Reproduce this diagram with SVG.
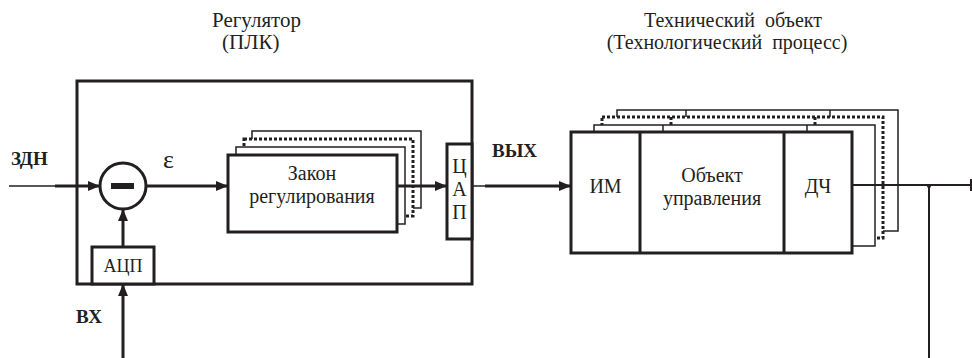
<svg xmlns="http://www.w3.org/2000/svg" width="972" height="358" viewBox="0 0 972 358">
<style>
.box{fill:#fff;stroke:#231f20;stroke-width:3}
.lay{fill:#fff;stroke:#231f20;stroke-width:1.5}
.dot{fill:#fff;stroke:#231f20;stroke-width:3;stroke-dasharray:3 2}
.thin{stroke:#231f20;stroke-width:1.5;fill:none}
.thk{stroke:#231f20;stroke-width:3;fill:none}
.med{stroke:#231f20;stroke-width:2;fill:none}
</style>
<defs>
<marker id="ah" markerUnits="userSpaceOnUse" markerWidth="14" markerHeight="12" refX="12" refY="6" orient="auto">
<path d="M0,1 L12,6 L0,11 Z" fill="#231f20"/>
</marker>
</defs>

<g id="titles">
<text x="212" y="27" font-size="21" fill="#231f20" font-family="'Liberation Serif'">Регулятор</text>
<text x="222" y="49" font-size="21" fill="#231f20" font-family="'Liberation Serif'">(ПЛК)</text>
<text x="733" y="27" font-size="20" fill="#231f20" text-anchor="middle" font-family="'Liberation Serif'">Технический&#160; объект</text>
<text x="727" y="49" font-size="20" fill="#231f20" text-anchor="middle" font-family="'Liberation Serif'">(Технологический&#160; процесс)</text>
</g>

<g id="regulator">
<rect x="77" y="81" width="395" height="203" fill="none" stroke="#231f20" stroke-width="3"/>
</g>

<g id="summator">
<circle cx="123" cy="186" r="23" fill="#fff" stroke="#231f20" stroke-width="3"/>
<rect x="111" y="183" width="23" height="6" fill="#231f20"/>
</g>

<g id="zakon">
<rect class="lay" x="252" y="131" width="169" height="77"/>
<rect class="dot" x="244" y="139" width="169" height="77"/>
<rect class="lay" x="236" y="147" width="169" height="77"/>
<rect class="box" x="228" y="155" width="169" height="77"/>
<text x="312" y="180" font-size="20" fill="#231f20" text-anchor="middle" font-family="'Liberation Serif'">Закон</text>
<text x="312" y="203" font-size="20" fill="#231f20" text-anchor="middle" font-family="'Liberation Serif'">регулирования</text>
</g>

<g id="cap">
<rect class="box" x="447" y="144" width="25" height="95"/>
<text x="459.5" y="173" font-size="20" fill="#231f20" text-anchor="middle" font-family="'Liberation Serif'">Ц</text>
<text x="459.5" y="196" font-size="20" fill="#231f20" text-anchor="middle" font-family="'Liberation Serif'">А</text>
<text x="459.5" y="219" font-size="20" fill="#231f20" text-anchor="middle" font-family="'Liberation Serif'">П</text>
</g>

<g id="acp">
<rect class="box" x="92" y="247" width="62" height="37"/>
<text x="123" y="272" font-size="18" fill="#231f20" text-anchor="middle" font-family="'Liberation Serif'">АЦП</text>
</g>

<g id="object">
<rect class="lay" x="617" y="110" width="281" height="121"/>
<line class="thin" x1="686" y1="110" x2="686" y2="231"/>
<line class="thin" x1="830" y1="110" x2="830" y2="231"/>
<rect class="dot" x="602" y="117" width="281" height="121"/>
<line class="dot" x1="671" y1="117" x2="671" y2="238"/>
<line class="dot" x1="815" y1="117" x2="815" y2="238"/>
<rect class="lay" x="594" y="125" width="281" height="121"/>
<line class="thin" x1="663" y1="125" x2="663" y2="246"/>
<line class="thin" x1="807" y1="125" x2="807" y2="246"/>
<rect class="box" x="571" y="132" width="281" height="121"/>
<line class="thk" x1="640" y1="132" x2="640" y2="253"/>
<line class="thk" x1="784" y1="132" x2="784" y2="253"/>
<text x="605.5" y="193" font-size="20" fill="#231f20" text-anchor="middle" font-family="'Liberation Serif'">ИМ</text>
<text x="712" y="182" font-size="20" fill="#231f20" text-anchor="middle" font-family="'Liberation Serif'">Объект</text>
<text x="712" y="205" font-size="20" fill="#231f20" text-anchor="middle" font-family="'Liberation Serif'">управления</text>
<text x="818" y="193" font-size="20" fill="#231f20" text-anchor="middle" font-family="'Liberation Serif'">ДЧ</text>
</g>

<g id="labels">
<text x="11" y="165" font-size="19" font-weight="bold" fill="#231f20" font-family="'Liberation Serif'">ЗДН</text>
<text x="163" y="168" font-size="26" fill="#231f20" font-family="'Liberation Serif'">ε</text>
<text x="492" y="157" font-size="19" font-weight="bold" fill="#231f20" font-family="'Liberation Serif'">ВЫХ</text>
<text x="76" y="323" font-size="19" font-weight="bold" fill="#231f20" font-family="'Liberation Serif'">ВХ</text>
</g>

<g id="connectors">
<line class="thin" x1="9" y1="186" x2="56" y2="186"/>
<line class="thk" x1="55" y1="186" x2="100" y2="186" marker-end="url(#ah)"/>
<line class="thk" x1="146" y1="186" x2="228" y2="186" marker-end="url(#ah)"/>
<line class="thk" x1="397" y1="186" x2="447" y2="186" marker-end="url(#ah)"/>
<line class="thin" x1="472" y1="186" x2="486" y2="186"/>
<line class="thk" x1="485" y1="186" x2="571" y2="186" marker-end="url(#ah)"/>
<line class="thk" x1="123" y1="247" x2="123" y2="209" marker-end="url(#ah)"/>
<line class="thk" x1="123" y1="358" x2="123" y2="284" marker-end="url(#ah)"/>
<line class="med" x1="852" y1="185" x2="972" y2="185"/>
<line class="med" x1="971" y1="179" x2="971" y2="191"/>
<line class="med" x1="929" y1="185" x2="929" y2="358"/>
<circle cx="929" cy="186" r="2" fill="#231f20"/>
</g>
</svg>
